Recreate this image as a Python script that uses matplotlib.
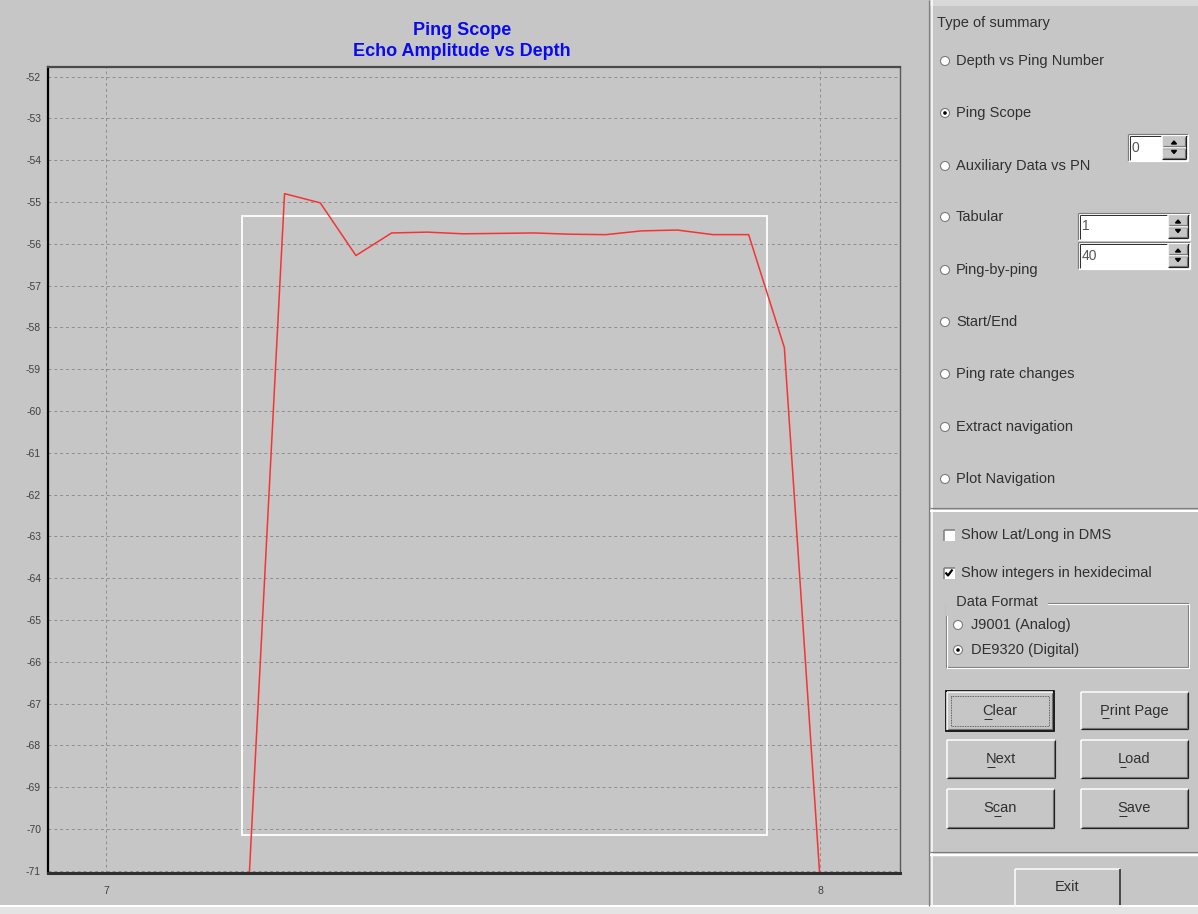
import matplotlib
matplotlib.use("Agg")
import matplotlib.pyplot as plt
from matplotlib.patches import Rectangle, Circle
from matplotlib.textpath import TextPath
from matplotlib.font_manager import FontProperties

# ---- data ----
depth = [7.20, 7.25, 7.30, 7.35, 7.40, 7.45, 7.50, 7.55, 7.60,
         7.65, 7.70, 7.75, 7.80, 7.85, 7.90, 7.95, 8.00]
amplitude = [-71.3, -54.80, -55.02, -56.28, -55.74, -55.72, -55.76, -55.75, -55.74,
             -55.77, -55.78, -55.69, -55.67, -55.78, -55.78, -58.48, -71.2]
window_depth = [7.19, 7.926]
window_amp = [-70.13, -55.33]
y_ticks = list(range(-52, -72, -1))
x_ticks = [7, 8]

summary_types = ["Depth vs Ping Number", "Ping Scope", "Auxiliary Data vs PN", "Tabular",
                 "Ping-by-ping", "Start/End", "Ping rate changes", "Extract navigation",
                 "Plot Navigation"]
selected_type = "Ping Scope"

BG = "#c6c6c6"
DARK = "#7c7c7c"
TXT = "#303030"
FONT = "Liberation Sans"
W, H = 1198, 914
PX = 0.72  # one pixel in points


def line(ax, xs, ys, color, lw=1.0, **kw):
    ax.plot(xs, ys, color=color, lw=lw * PX, solid_capstyle="butt", **kw)


def raised(ax, x0, y0, x1, y1):
    ax.add_patch(Rectangle((x0, y0), x1 - x0, y1 - y0, facecolor=BG, edgecolor="none"))
    line(ax, [x0, x1], [y0, y0], "white", 1.5)
    line(ax, [x0, x0], [y0, y1], "white", 1.5)
    line(ax, [x0 + 1, x1 - 1], [y1 - 1.5, y1 - 1.5], DARK, 1.2)
    line(ax, [x1 - 1.5, x1 - 1.5], [y0 + 1, y1 - 1], DARK, 1.2)
    line(ax, [x0, x1], [y1, y1], "#202020", 1.2)
    line(ax, [x1, x1], [y0, y1], "#202020", 1.2)


def sunken(ax, x0, y0, x1, y1, face="white"):
    ax.add_patch(Rectangle((x0, y0), x1 - x0, y1 - y0, facecolor=face, edgecolor="none"))
    line(ax, [x0, x1], [y0, y0], DARK, 1.2)
    line(ax, [x0, x0], [y0, y1], DARK, 1.2)
    line(ax, [x0 + 1.5, x1 - 1], [y0 + 1.5, y0 + 1.5], "#303030", 1.0)
    line(ax, [x0 + 1.5, x0 + 1.5], [y0 + 1.5, y1 - 1], "#303030", 1.0)
    line(ax, [x0, x1], [y1, y1], "white", 1.2)
    line(ax, [x1, x1], [y0, y1], "white", 1.2)


def radio(ax, x, y, label, checked=False, tx=None):
    ax.add_patch(Circle((x, y), 4.5, facecolor="white", edgecolor=DARK, lw=0.8))
    if checked:
        ax.add_patch(Circle((x, y), 1.8, facecolor="black", edgecolor="none"))
    ax.text(tx if tx else x + 11, y, label, fontsize=10.5, family=FONT, color=TXT,
            ha="left", va="center")


def checkbox(ax, x, y, label, checked=False):
    ax.add_patch(Rectangle((x - 5.5, y - 5.5), 11, 11, facecolor="white",
                           edgecolor="none"))
    line(ax, [x - 5.5, x + 5.5], [y - 5.5, y - 5.5], DARK, 1.5)
    line(ax, [x - 5.5, x - 5.5], [y - 5.5, y + 5.5], DARK, 1.5)
    if checked:
        line(ax, [x - 3.5, x - 1, x + 3.5], [y - 0.5, y + 2.5, y - 3.5], "black", 2.2)
    ax.text(x + 12, y, label, fontsize=10.5, family=FONT, color=TXT, ha="left", va="center")


def spin(ax, x0, y0, x1, y1, bx, value):
    sunken(ax, x0, y0, x1, y1)
    ax.text(x0 + 4, (y0 + y1) / 2, value, fontsize=10, family=FONT, color="#555555",
            ha="left", va="center")
    ym = (y0 + y1) / 2
    raised(ax, bx, y0 + 2, x1 - 2, ym)
    raised(ax, bx, ym, x1 - 2, y1 - 2)
    cx = (bx + x1 - 2) / 2
    ax.fill([cx - 2.5, cx + 2.5, cx], [ym - 3.5, ym - 3.5, ym - 6.5], color="black")
    ax.fill([cx - 2.5, cx + 2.5, cx], [ym + 3, ym + 3, ym + 6], color="black")


def button(ax, x0, y0, x1, y1, label, key, focus=False):
    raised(ax, x0, y0, x1, y1)
    if focus:
        ax.add_patch(Rectangle((x0 - 1, y0 - 1), x1 - x0 + 2, y1 - y0 + 2, facecolor="none",
                               edgecolor="black", lw=1.2))
        ax.add_patch(Rectangle((x0 + 4, y0 + 4), x1 - x0 - 8, y1 - y0 - 8, facecolor="none",
                               edgecolor="#404040", lw=0.6, ls=(0, (1, 1))))
    cx, cy = (x0 + x1) / 2, (y0 + y1) / 2
    ax.text(cx, cy, label, fontsize=10.5, family=FONT, color=TXT, ha="center", va="center")
    # mnemonic underline
    fp = FontProperties(family=FONT, size=10.5)
    scale = 100 / 72
    full = TextPath((0, 0), label, prop=fp).get_extents().width * scale
    pre = TextPath((0, 0), label[:key], prop=fp).get_extents().width * scale if key else 0
    upto = TextPath((0, 0), label[:key + 1], prop=fp).get_extents().width * scale
    xs = cx - full / 2
    line(ax, [xs + pre + 0.5, xs + upto], [cy + 7.5, cy + 7.5], TXT, 1)


def main():
    fig = plt.figure(figsize=(W / 100, H / 100), dpi=100, facecolor=BG)

    # ---- window chrome (pixel coordinates) ----
    ui = fig.add_axes([0, 0, 1, 1])
    ui.set_xlim(0, W)
    ui.set_ylim(H, 0)
    ui.axis("off")

    ui.add_patch(Rectangle((0, 906), W, 8, facecolor="#e4e4e4", edgecolor="none"))
    line(ui, [0, W], [906, 906], "white", 2)
    ui.add_patch(Rectangle((930, 0), W - 930, 6, facecolor="#d8d8d8", edgecolor="none"))
    line(ui, [929, 929], [0, 906], DARK, 1.2)
    line(ui, [931.5, 931.5], [0, 906], "white", 1.5)
    line(ui, [930, W], [508, 508], DARK, 1.2)
    line(ui, [930, W], [510.5, 510.5], "white", 2)
    line(ui, [930, W], [852, 852], DARK, 1.2)
    line(ui, [930, W], [855, 855], "white", 2.5)

    ui.text(937, 23, "Type of summary", fontsize=10.5, family=FONT, color=TXT,
            ha="left", va="center")
    radio_y = [61, 113, 166, 217, 270, 322, 374, 427, 479]
    for yy, name in zip(radio_y, summary_types):
        radio(ui, 945, yy, name, checked=(name == selected_type))

    spin(ui, 1128, 134, 1188, 161, 1162, "0")
    spin(ui, 1078, 213, 1190, 240, 1168, "1")
    spin(ui, 1078, 242, 1190, 269, 1168, "40")

    checkbox(ui, 949, 535, "Show Lat/Long in DMS", checked=False)
    checkbox(ui, 949, 573, "Show integers in hexidecimal", checked=True)

    # data format group
    ui.add_patch(Rectangle((946, 603), 242, 64, facecolor="none", edgecolor=DARK, lw=0.8))
    ui.add_patch(Rectangle((947, 604), 242, 64, facecolor="none", edgecolor="white", lw=0.8))
    ui.text(952, 602, " Data Format ", fontsize=10.5, family=FONT, color=TXT,
            ha="left", va="center", backgroundcolor=BG)
    radio(ui, 958, 625, "J9001 (Analog)", tx=971)
    radio(ui, 958, 650, "DE9320 (Digital)", checked=True, tx=971)

    button(ui, 947, 692, 1053, 730, "Clear", 0, focus=True)
    button(ui, 1081, 692, 1188, 729, "Print Page", 0)
    button(ui, 947, 740, 1055, 778, "Next", 0)
    button(ui, 1081, 740, 1188, 778, "Load", 0)
    button(ui, 947, 789, 1054, 828, "Scan", 1)
    button(ui, 1081, 789, 1188, 828, "Save", 0)

    # exit button
    line(ui, [1015, 1120], [869, 869], "white", 1.5)
    line(ui, [1015, 1015], [869, 905], "white", 1.5)
    line(ui, [1120, 1120], [869, 905], "#202020", 1.5)
    ui.text(1067, 887, "Exit", fontsize=10.5, family=FONT, color=TXT, ha="center", va="center")

    # ---- ping scope plot ----
    ax = fig.add_axes([48 / W, 1 - 873 / H, (900 - 48) / W, (873 - 67) / H])
    ax.set_facecolor(BG)
    ax.set_xlim(6.9187, 8.112)
    ax.set_ylim(-71.05, -51.77)
    ax.set_yticks(y_ticks)
    ax.set_yticklabels([str(v) for v in y_ticks])
    ax.set_xticks(x_ticks)
    ax.set_xticklabels([str(v) for v in x_ticks])
    ax.tick_params(length=0, labelsize=7.5, colors="#404040")
    ax.tick_params(axis="y", pad=5)
    ax.tick_params(axis="x", pad=9)
    for lab in ax.get_xticklabels() + ax.get_yticklabels():
        lab.set_family(FONT)
    ax.grid(True, color="#8e8e8e", lw=0.7, ls=(0, (3, 3)))
    ax.set_axisbelow(True)

    ax.spines["left"].set_color("black")
    ax.spines["left"].set_linewidth(1.6)
    ax.spines["bottom"].set_color("#303030")
    ax.spines["bottom"].set_linewidth(2.2)
    ax.spines["top"].set_color("#4a4a4a")
    ax.spines["top"].set_linewidth(1.6)
    ax.spines["right"].set_color("#5a5a5a")
    ax.spines["right"].set_linewidth(1.0)

    ax.add_patch(Rectangle((window_depth[0], window_amp[0]),
                           window_depth[1] - window_depth[0], window_amp[1] - window_amp[0],
                           facecolor="none", edgecolor="white", lw=1.3))
    ax.plot(depth, amplitude, color="#f43434", lw=1.1)

    fig.text(462 / W, 1 - 30.5 / H, "Ping Scope", fontsize=13, fontweight="bold",
             family=FONT, color="#0a0aee", ha="center", va="center")
    fig.text(462 / W, 1 - 51.5 / H, "Echo Amplitude vs Depth", fontsize=13,
             fontweight="bold", family=FONT, color="#0a0aee", ha="center", va="center")

    fig.savefig("out.png", dpi=100, facecolor=BG)
    plt.close(fig)


if __name__ == "__main__":
    main()
